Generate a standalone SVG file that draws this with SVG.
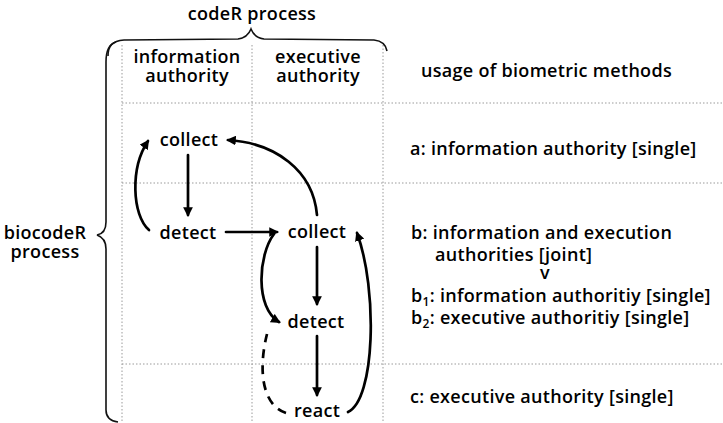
<svg xmlns="http://www.w3.org/2000/svg" width="723" height="423" viewBox="0 0 723 423">
  <style>
    text { font-family: "Open Sans", "DejaVu Sans", sans-serif; font-size: 18px; font-weight: 600; letter-spacing: 0.3px; fill: #000; }
    .mid { text-anchor: middle; }
    .grid { stroke: #9a9a9a; stroke-width: 1; stroke-dasharray: 1.5 2; fill: none; }
    .brace { stroke: #111; stroke-width: 1.6; fill: none; }
    .edge { stroke: #000; stroke-width: 2.7; fill: none; stroke-linecap: round; }
    .dash { stroke-dasharray: 9 7; stroke-linecap: butt; }
    .sub { font-size: 12px; }
  </style>
  <defs>
    <marker id="arrow" viewBox="0 0 10 10" refX="8" refY="5" markerWidth="3.6" markerHeight="3.6" orient="auto" markerUnits="strokeWidth">
      <path d="M0,0 L10,5 L0,10 Z" fill="#000"/>
    </marker>
  </defs>
  <rect width="723" height="423" fill="#fff"/>

  <!-- table grid -->
  <g id="grid">
    <line class="grid" x1="122" y1="45" x2="122" y2="423"/>
    <line class="grid" x1="252" y1="45" x2="252" y2="423"/>
    <line class="grid" x1="383" y1="45" x2="383" y2="423"/>
    <line class="grid" x1="122" y1="103" x2="723" y2="103"/>
    <line class="grid" x1="122" y1="183" x2="723" y2="183"/>
    <line class="grid" x1="122" y1="364" x2="723" y2="364"/>
  </g>

  <!-- braces and their labels -->
  <g id="codeR-process">
    <path class="brace" d="M108,56 C108,46 112,41 124,40 L238,39 C246,38 249,34 251,29 C253,34 256,38 264,39 L374,40 C383,41 386,45 387,51"/>
    <text class="mid" x="252" y="20">codeR process</text>
  </g>
  <g id="biocodeR-process">
    <path class="brace" d="M116,42 C109,44 106,50 106,62 L106,222 C106,230 103,234 97,235 C103,237 106,241 106,249 L106,410 C106,417 110,421 118,422"/>
    <text class="mid" x="45" y="239">biocodeR</text>
    <text class="mid" x="45" y="258">process</text>
  </g>

  <!-- column headers -->
  <g id="header-information">
    <text class="mid" x="187" y="63">information</text>
    <text class="mid" x="187" y="82">authority</text>
  </g>
  <g id="header-executive">
    <text class="mid" x="318" y="63">executive</text>
    <text class="mid" x="318" y="82">authority</text>
  </g>
  <g id="header-usage">
    <text x="421" y="77">usage of biometric methods</text>
  </g>

  <!-- process steps -->
  <g id="collect-info"><text class="mid" x="189" y="146">collect</text></g>
  <g id="detect-info"><text class="mid" x="188" y="239">detect</text></g>
  <g id="collect-exec"><text class="mid" x="317" y="238">collect</text></g>
  <g id="detect-exec"><text class="mid" x="316" y="328">detect</text></g>
  <g id="react-exec"><text class="mid" x="317" y="417">react</text></g>

  <!-- usage descriptions -->
  <g id="usage-a">
    <text x="410" y="155">a: information authority [single]</text>
  </g>
  <g id="usage-b">
    <text x="411" y="239">b: information and execution</text>
    <text x="435" y="261">authorities [joint]</text>
    <text class="mid" x="545" y="279">v</text>
    <text x="411" y="302">b<tspan class="sub" dy="4">1</tspan><tspan dy="-4">: information authoritiy [single]</tspan></text>
    <text x="411" y="324">b<tspan class="sub" dy="4">2</tspan><tspan dy="-4">: executive authoritiy [single]</tspan></text>
  </g>
  <g id="usage-c">
    <text x="410" y="403">c: executive authority [single]</text>
  </g>

  <!-- connectors -->
  <g id="connectors">
    <path class="edge" marker-end="url(#arrow)" d="M188,155 L188,215"/>
    <path class="edge" marker-end="url(#arrow)" d="M149,230 C132,215 130,168 148,141"/>
    <path class="edge" marker-end="url(#arrow)" d="M226,232 L277,232"/>
    <path class="edge" marker-end="url(#arrow)" d="M317,215 C313,170 275,143 228,140"/>
    <path class="edge" marker-end="url(#arrow)" d="M317,247 L317,304"/>
    <path class="edge" marker-end="url(#arrow)" d="M274,234 C258,255 255,308 279,322"/>
    <path class="edge dash" d="M286,413 C262,405 258,370 267,334"/>
    <path class="edge" marker-end="url(#arrow)" d="M317,336 L317,395"/>
    <path class="edge" marker-end="url(#arrow)" d="M348,412 C375,400 378,290 357,233"/>
  </g>
</svg>
